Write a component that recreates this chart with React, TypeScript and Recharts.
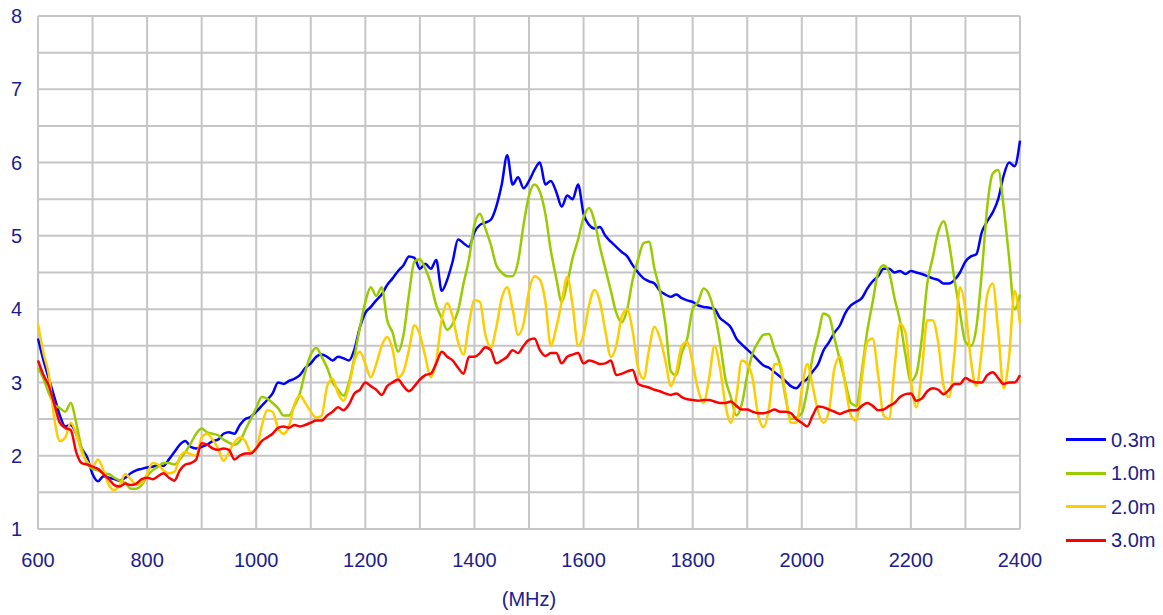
import { LineChart, Line, XAxis, YAxis, CartesianGrid } from "recharts";

// Frequencies (MHz), 10 MHz step from 600 to 2400
const START_MHZ = 600;
const STEP_MHZ = 10;

const S03 = [
  3.6, 3.3, 3.05, 2.8, 2.55, 2.4, 2.42, 2.3, 2.1, 1.98,
  1.75, 1.65, 1.72, 1.7, 1.68, 1.66, 1.7, 1.76, 1.8, 1.82,
  1.84, 1.85, 1.87, 1.86, 1.95, 2.05, 2.15, 2.2, 2.12, 2.1,
  2.12, 2.15, 2.2, 2.22, 2.3, 2.32, 2.3, 2.42, 2.5, 2.53,
  2.6, 2.68, 2.76, 2.85, 3.0, 2.98, 3.02, 3.05, 3.1, 3.2,
  3.26, 3.35, 3.38, 3.35, 3.3, 3.35, 3.33, 3.3, 3.45, 3.75,
  3.95, 4.03, 4.12, 4.2, 4.33, 4.42, 4.52, 4.6, 4.72, 4.7,
  4.55, 4.62, 4.55, 4.67, 4.25, 4.4, 4.65, 4.95, 4.9, 4.85,
  5.05, 5.15, 5.18, 5.22, 5.4, 5.7, 6.1, 5.7, 5.8, 5.65,
  5.75, 5.9, 6.0, 5.7, 5.75, 5.6, 5.4, 5.55, 5.5, 5.7,
  5.3, 5.15, 5.1, 5.12, 5.0, 4.92, 4.85, 4.78, 4.72, 4.6,
  4.5, 4.42, 4.38, 4.35, 4.25, 4.2, 4.17, 4.2, 4.15, 4.12,
  4.1, 4.05, 4.03, 4.02, 4.0, 3.88, 3.82, 3.75, 3.6, 3.52,
  3.45, 3.38, 3.3, 3.23, 3.2, 3.14, 3.08, 3.02, 2.95, 2.92,
  3.0, 3.05, 3.15, 3.25, 3.44, 3.55, 3.68, 3.78, 3.95, 4.05,
  4.1, 4.15, 4.28, 4.38, 4.45, 4.55, 4.55, 4.5, 4.52, 4.48,
  4.52, 4.5, 4.48, 4.45, 4.42, 4.4, 4.35, 4.35, 4.4, 4.5,
  4.65, 4.72, 4.75, 5.05, 5.2, 5.32, 5.5, 5.82, 6.0, 5.95,
  6.3,
];

const S10 = [
  3.2, 3.05, 2.85, 2.7, 2.65, 2.6, 2.72, 2.45, 2.1, 1.9,
  1.82, 1.8, 1.76, 1.75, 1.7, 1.66, 1.63, 1.55, 1.55, 1.6,
  1.72, 1.8, 1.85, 1.9, 1.9, 1.88, 1.95, 2.05, 2.17, 2.3,
  2.37, 2.32, 2.3, 2.28, 2.22, 2.18, 2.15, 2.2, 2.35, 2.5,
  2.65, 2.8, 2.78, 2.72, 2.65, 2.55, 2.55, 2.68, 2.85, 3.15,
  3.38, 3.47, 3.35, 3.2, 3.0, 2.9, 2.82, 3.0, 3.35, 3.75,
  4.1, 4.3, 4.18, 4.3, 3.85, 3.68, 3.42, 3.65, 4.2, 4.65,
  4.68, 4.55, 4.35, 4.05, 3.88, 3.72, 3.8, 3.98, 4.35, 4.68,
  5.15, 5.3, 5.1, 4.88, 4.6, 4.5, 4.45, 4.45, 4.65, 5.15,
  5.55, 5.7, 5.6, 5.3, 4.8, 4.42, 4.1, 4.35, 4.7, 4.95,
  5.25, 5.38, 5.2, 4.85, 4.55, 4.25, 3.95, 3.82, 4.0, 4.4,
  4.68, 4.9, 4.92, 4.55, 4.25, 3.8, 3.15, 3.1, 3.4, 3.6,
  4.0, 4.1, 4.28, 4.2, 3.95, 3.55, 3.05, 2.8, 2.55, 2.7,
  3.1, 3.4, 3.55, 3.65, 3.66, 3.45, 3.25, 2.8, 2.5, 2.52,
  2.58, 2.9, 3.35, 3.65, 3.94, 3.9, 3.6, 3.3, 3.0, 2.72,
  2.68, 3.15, 3.7, 4.1, 4.5, 4.6, 4.5, 4.15, 3.84, 3.38,
  3.02, 3.12, 3.6, 4.35, 4.7, 5.05, 5.2, 4.9, 4.4, 3.95,
  3.55, 3.5, 3.75, 4.5, 5.4, 5.85, 5.9, 5.4, 4.7, 4.0,
  4.2,
];

const S20 = [
  3.8, 3.4, 3.1, 2.5, 2.2, 2.25, 2.45, 2.3, 2.05, 1.92,
  1.85, 1.95, 1.8, 1.6, 1.53, 1.6, 1.75, 1.68, 1.6, 1.63,
  1.75, 1.9, 1.88, 1.8, 1.76, 1.78, 1.98, 2.05, 2.02, 2.0,
  2.25, 2.3, 2.22, 2.1, 1.93, 2.05, 2.18, 2.25, 2.2, 2.05,
  2.1, 2.4, 2.62, 2.6, 2.38, 2.3, 2.4, 2.7, 2.82, 2.72,
  2.6, 2.52, 2.55, 2.95, 3.05, 2.85, 2.75, 2.95, 3.3, 3.42,
  3.25, 3.07, 3.25, 3.5, 3.62, 3.45, 3.07, 3.15, 3.45, 3.78,
  3.65, 3.35, 3.07, 3.3, 3.85, 4.08, 3.9, 3.55, 3.38, 3.8,
  4.12, 4.1, 3.65, 3.48, 3.75, 4.15, 4.3, 4.0, 3.65, 3.8,
  4.25, 4.45, 4.4, 4.1, 3.5, 3.75, 4.1, 4.44, 4.05, 3.5,
  3.65, 4.05, 4.26, 4.1, 3.7, 3.35, 3.5, 3.9, 4.0, 3.7,
  3.2, 3.05, 3.45, 3.76, 3.6, 3.3, 2.95, 3.15, 3.5, 3.55,
  3.26, 2.9, 2.72, 3.05, 3.5, 3.2, 2.7, 2.45, 2.8, 3.3,
  3.25, 3.05, 2.55, 2.39, 2.65, 3.25, 3.25, 2.85, 2.45, 2.45,
  2.9, 3.25, 2.95, 2.6, 2.45, 2.62, 3.2, 3.35, 2.95, 2.55,
  2.48, 3.05, 3.55, 3.6, 3.1, 2.55, 2.5, 3.2, 3.8, 3.68,
  3.02, 2.66, 3.16, 3.85, 3.85, 3.55, 2.95, 2.8, 3.4, 4.3,
  4.0, 3.3, 2.95, 3.45, 4.2, 4.35, 3.7, 2.92, 3.35, 4.25,
  3.8,
];

const S30 = [
  3.3, 3.1, 2.95, 2.7, 2.45, 2.38, 2.35, 2.05, 1.9, 1.88,
  1.85, 1.82, 1.75, 1.68, 1.6, 1.58, 1.62, 1.6, 1.62, 1.68,
  1.7, 1.68, 1.72, 1.76, 1.7, 1.66, 1.8, 1.88, 1.9, 1.95,
  2.17, 2.15, 2.1, 2.08, 2.1, 2.08, 1.95, 2.0, 2.03, 2.03,
  2.1, 2.2, 2.25, 2.3, 2.38, 2.4, 2.38, 2.42, 2.4, 2.42,
  2.45, 2.48, 2.48, 2.55, 2.6, 2.66, 2.62, 2.7, 2.85, 2.9,
  3.0, 2.95, 2.9, 2.83, 2.95, 3.0, 3.04, 2.95, 2.88, 2.95,
  3.04, 3.1, 3.12, 3.26, 3.42, 3.35, 3.3, 3.2, 3.12, 3.35,
  3.35, 3.4, 3.48, 3.44, 3.26, 3.3, 3.35, 3.44, 3.4, 3.5,
  3.58, 3.6, 3.44, 3.36, 3.4, 3.4, 3.26, 3.35, 3.38, 3.4,
  3.26, 3.3, 3.28, 3.25, 3.26, 3.3, 3.1, 3.12, 3.15, 3.17,
  2.98, 2.95, 2.93, 2.9, 2.88, 2.85, 2.83, 2.85, 2.8, 2.77,
  2.76, 2.75, 2.76, 2.76, 2.74, 2.72, 2.72, 2.74, 2.68, 2.63,
  2.63, 2.6, 2.58, 2.58, 2.6, 2.63, 2.6, 2.6, 2.58, 2.5,
  2.45, 2.4, 2.55, 2.67, 2.66, 2.63, 2.6, 2.57, 2.6, 2.62,
  2.62, 2.68, 2.72, 2.68, 2.62, 2.63, 2.68, 2.72, 2.8, 2.84,
  2.85, 2.75, 2.78, 2.88, 2.92, 2.9, 2.84, 2.9, 2.98, 2.98,
  3.06, 3.02, 3.0, 3.0, 3.1, 3.14, 3.06, 2.98, 3.0, 3.0,
  3.1,
];

const X_TICKS = [
  600, 700, 800, 900, 1000, 1100, 1200, 1300, 1400, 1500, 1600,
  1700, 1800, 1900, 2000, 2100, 2200, 2300, 2400,
];
const Y_TICKS = [1, 1.5, 2, 2.5, 3, 3.5, 4, 4.5, 5, 5.5, 6, 6.5, 7, 7.5, 8];

const SERIES = [
  { key: "s03", name: "0.3m", color: "#0000ff", values: S03 },
  { key: "s10", name: "1.0m", color: "#99cc00", values: S10 },
  { key: "s20", name: "2.0m", color: "#ffcc00", values: S20 },
  { key: "s30", name: "3.0m", color: "#ff0000", values: S30 },
];

const TEXT = "#1c1c8c";
const FONT = "'Liberation Sans', Arial, sans-serif";

const data = S03.map((_, i) => {
  const row: Record<string, number> = { f: START_MHZ + i * STEP_MHZ };
  SERIES.forEach((s) => {
    row[s.key] = s.values[i];
  });
  return row;
});

export default function App() {
  return (
    <div
      style={{
        position: "absolute",
        left: 0,
        top: 0,
        width: 1163,
        height: 615,
        background: "#fff",
        fontFamily: FONT,
      }}
    >
      <LineChart
        width={1163}
        height={615}
        data={data}
        margin={{ top: 16, right: 143, bottom: 0, left: 0 }}
      >
        <CartesianGrid stroke="#c6c6c6" strokeWidth={2} />
        <XAxis
          dataKey="f"
          type="number"
          domain={[600, 2400]}
          ticks={X_TICKS}
          interval={0}
          height={86}
          axisLine={false}
          tickLine={false}
          tickSize={0}
          tickMargin={24}
          tick={{ fill: TEXT, fontSize: 20, fontFamily: FONT }}
          tickFormatter={(v: number) => (v % 200 === 0 ? String(v) : "")}
          label={{
            value: "(MHz)",
            position: "insideBottom",
            offset: 9,
            fill: TEXT,
            fontSize: 20,
            fontFamily: FONT,
          }}
        />
        <YAxis
          type="number"
          domain={[1, 8]}
          ticks={Y_TICKS}
          interval={0}
          width={38}
          axisLine={false}
          tickLine={false}
          tickSize={0}
          tickMargin={16}
          tick={{ fill: TEXT, fontSize: 20, fontFamily: FONT }}
          tickFormatter={(v: number) => (Number.isInteger(v) ? String(v) : "")}
        />
        {SERIES.map((s) => (
          <Line
            key={s.key}
            dataKey={s.key}
            name={s.name}
            type="monotone"
            stroke={s.color}
            strokeWidth={2.5}
            strokeLinejoin="round"
            dot={false}
            isAnimationActive={false}
          />
        ))}
      </LineChart>
      <div style={{ position: "absolute", left: 1066, top: 423 }}>
        {SERIES.map((s) => (
          <div
            key={s.key}
            style={{ display: "flex", alignItems: "center", height: 33.5 }}
          >
            <div style={{ width: 40, height: 3, background: s.color }} />
            <span
              style={{ marginLeft: 5, color: TEXT, fontSize: 20, lineHeight: "20px" }}
            >
              {s.name}
            </span>
          </div>
        ))}
      </div>
    </div>
  );
}
